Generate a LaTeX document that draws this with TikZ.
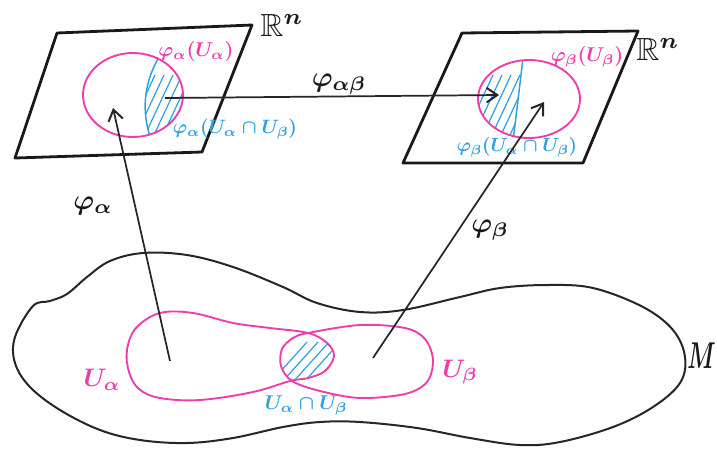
\documentclass[tikz,border=0pt]{standalone}
\usepackage{amssymb}
\usetikzlibrary{arrows.meta}
\definecolor{pinkc}{RGB}{238,60,172}
\definecolor{bluec}{RGB}{45,160,226}
\tikzset{
  plane/.style={draw=black!90, line width=2.1pt, line join=round},
  outline/.style={draw=black!85, line width=1.5pt},
  pinkline/.style={draw=pinkc, line width=1.4pt},
  blueline/.style={draw=bluec, line width=1.1pt},
  hatch/.style={draw=bluec, line width=0.9pt},
  maparrow/.style={draw=black!85, line width=1.3pt, -{Straight Barb[length=8pt,width=11pt,line width=1.5pt]}},
  pinklabel/.style={text=pinkc, inner sep=0pt, font=\boldmath},
  bluelabel/.style={text=bluec, inner sep=0pt, font=\boldmath},
  maplabel/.style={text=black!90, inner sep=0pt, font=\boldmath},
  spacelabel/.style={text=black!90, inner sep=0pt, font=\boldmath}
}
\begin{document}
\begin{tikzpicture}[x=0.75pt,y=-0.75pt]
\useasboundingbox (0,0) rectangle (717,454);
\fill[white] (0,0) rectangle (717,454);

% ---------- left chart plane ----------
\draw[plane] (57,33) -- (252,25) -- (202,152) -- (15,158) -- cycle;
\node[spacelabel] (Rl) at (282,25) {\scalebox{2.4}{$\mathbb{R}^n$}};
\begin{scope}
  \clip (133,95) ellipse [x radius=50, y radius=42];
  \clip (170,40) .. controls (140,80) and (140,115) .. (155,150) -- (200,150) -- (200,40) -- cycle;
  \foreach \i in {0,...,8} {
    \draw[hatch] (120+9*\i,150) -- ++(35,-75);
  }
\end{scope}
\begin{scope}
  \clip (133,95) ellipse [x radius=50, y radius=42];
  \draw[blueline] (170,40) .. controls (140,80) and (140,115) .. (155,150);
\end{scope}
\draw[pinkline] (133,95) ellipse [x radius=50, y radius=42];
\node[pinklabel] (la) at (196,51) {\scalebox{1.5}{$\varphi_\alpha(U_\alpha)$}};
\node[bluelabel] (lab) at (235,129) {\scalebox{1.45}{$\varphi_\alpha(U_\alpha\cap U_\beta)$}};

% ---------- right chart plane ----------
\draw[plane] (462,33) -- (638,31) -- (583,163) -- (403,163) -- cycle;
\node[spacelabel] (Rr) at (658,49) {\scalebox{2.4}{$\mathbb{R}^n$}};
\begin{scope}
  \clip (529,99) ellipse [x radius=51, y radius=39];
  \clip (524,50) -- (512,150) -- (470,150) -- (470,50) -- cycle;
  \foreach \i in {0,...,8} {
    \draw[hatch] (440+9*\i,150) -- ++(35,-75);
  }
\end{scope}
\begin{scope}
  \clip (529,99) ellipse [x radius=51, y radius=39];
  \draw[blueline] (524,50) -- (512,150);
\end{scope}
\draw[pinkline] (529,99) ellipse [x radius=51, y radius=39];
\node[pinklabel] (lb) at (587,57) {\scalebox{1.5}{$\varphi_\beta(U_\beta)$}};
\node[bluelabel] (lba) at (517,147) {\scalebox{1.42}{$\varphi_\beta(U_\alpha\cap U_\beta)$}};

% ---------- manifold ----------
\draw[outline] plot[smooth cycle, tension=0.6] coordinates {
  (15,337) (33,306) (50,301) (67,294) (87,277) (110,261) (143,253) (187,255)
  (233,267) (283,287) (317,303) (360,312) (403,310) (460,297) (500,288)
  (547,285) (593,288) (643,307) (673,330) (685,357) (680,383) (653,407)
  (613,427) (560,442) (520,445) (470,438) (417,428) (360,422) (320,422)
  (283,427) (233,438) (187,443) (140,440) (100,430) (60,410) (30,387) (15,363)};
\node[spacelabel, anchor=east] (M) at (716,356) {\scalebox{1.7}[2.8]{$M$}};

% open sets
\def\Ualpha{plot[smooth cycle, tension=0.6] coordinates {
  (127,350) (136,328) (160,313) (193,313) (233,323) (270,328) (308,333)
  (327,343) (334,356) (325,371) (308,378) (290,381) (253,392) (200,400)
  (160,398) (139,389) (129,372)}}
\def\Ubeta{plot[smooth cycle, tension=0.55] coordinates {
  (308,333) (360,325) (405,328) (425,339) (433,360) (427,382) (405,394)
  (360,398) (320,391) (292,381) (281,366) (282,349) (293,338)}}
\begin{scope}
  \clip \Ualpha;
  \clip \Ubeta;
  \foreach \i in {0,...,6} {
    \draw[hatch] (262+11*\i,392) -- ++(45,-50);
  }
\end{scope}
\draw[pinkline] \Ualpha;
\draw[pinkline] \Ubeta;
\node[pinklabel] (Ua) at (102,380) {\scalebox{1.9}{$U_\alpha$}};
\node[pinklabel] (Ub) at (460,372) {\scalebox{1.9}{$U_\beta$}};
\node[bluelabel] (Uab) at (306,405) {\scalebox{1.5}{$U_\alpha\cap U_\beta$}};

% ---------- maps ----------
\coordinate (pa) at (170,361);
\coordinate (qa) at (113,108);
\coordinate (pb) at (373,358);
\coordinate (qb) at (544,102);
\coordinate (sa) at (165,98);
\coordinate (sb) at (499,95);
\draw[maparrow] (pa) -- (qa);
\draw[maparrow] (pb) -- (qb);
\draw[maparrow] (sa) -- (sb);
\node[maplabel] (fa) at (93,206) {\scalebox{2.1}{$\varphi_\alpha$}};
\node[maplabel] (fb) at (490,230) {\scalebox{2.1}{$\varphi_\beta$}};
\node[maplabel] (fab) at (339,84) {\scalebox{2.1}{$\varphi_{\alpha\beta}$}};
\end{tikzpicture}
\end{document}
